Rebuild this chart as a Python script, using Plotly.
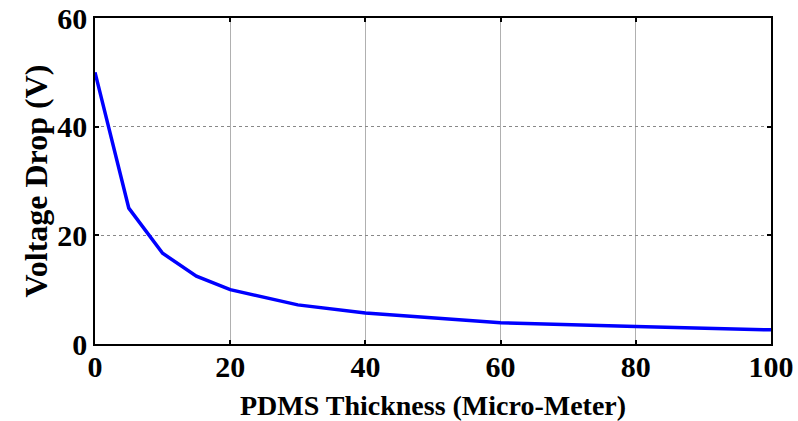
import plotly.graph_objects as go

thickness = [0, 5, 10, 15, 20, 30, 40, 60, 80, 100]
voltage_drop = [50, 25, 16.7, 12.5, 10, 7.2, 5.7, 3.9, 3.2, 2.6]
x_ticks = [0, 20, 40, 60, 80, 100]
y_ticks = [0, 20, 40, 60]

font_family = "Liberation Serif, Times New Roman, serif"

fig = go.Figure()
fig.add_trace(go.Scatter(x=thickness, y=voltage_drop, mode="lines",
                         line=dict(color="#0000ff", width=3.5), showlegend=False))

axis_common = dict(
    showline=True, linecolor="black", linewidth=1.5, mirror="allticks",
    ticks="inside", ticklen=4, tickwidth=1.5, tickcolor="black",
    showgrid=True, gridwidth=1,
    zeroline=False, automargin=False,
    tickfont=dict(family=font_family, size=30, color="black", weight="bold"),
)

fig.update_xaxes(range=[0, 100], tickvals=x_ticks, ticktext=[str(v) for v in x_ticks],
                 gridcolor="#b0b0b0", griddash="solid", ticklabelstandoff=-5,
                 title=dict(text="<b>PDMS Thickness (Micro-Meter)</b>",
                            font=dict(family=font_family, size=28, color="black"),
                            standoff=15),
                 **axis_common)
fig.update_yaxes(range=[0, 60], tickvals=y_ticks, ticktext=[str(v) for v in y_ticks],
                 gridcolor="#888888", griddash="dot",
                 title=dict(text="<b>Voltage Drop (V)</b>",
                            font=dict(family=font_family, size=32, color="black"),
                            standoff=0),
                 **axis_common)

fig.update_layout(
    width=798, height=421,
    margin=dict(l=95, r=27, t=18, b=77),
    plot_bgcolor="white", paper_bgcolor="white",
)

fig.write_html("out.html", config={"displayModeBar": False},
               post_script="document.body.style.margin='0';document.body.style.overflow='hidden';")
